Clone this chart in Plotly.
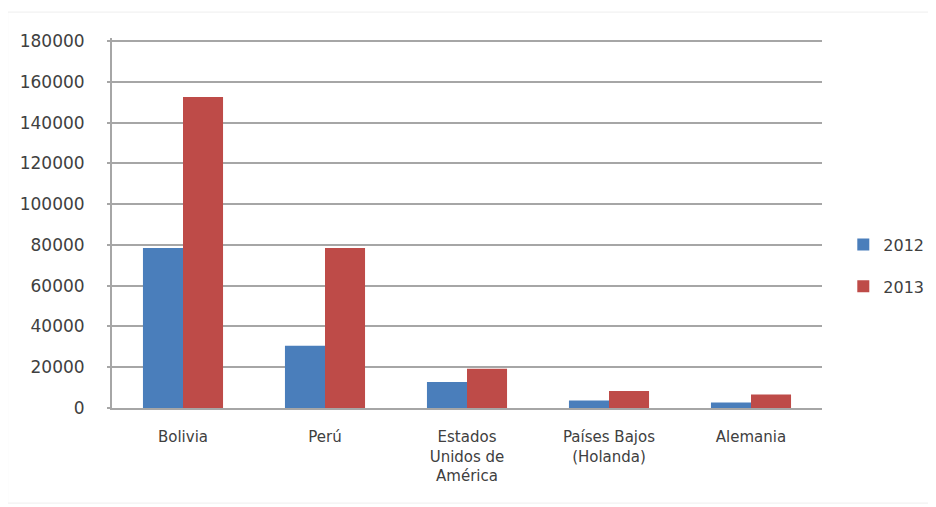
import plotly.graph_objects as go


BLUE = "#4A7EBB"
RED = "#BE4B48"
GRID = "#A6A6A6"
TEXT = "#404040"

paises = [
    "Bolivia",
    "Perú",
    "Estados<br>Unidos de<br>América",
    "Países Bajos<br>(Holanda)",
    "Alemania",
]

valores_2012 = [78500, 30500, 12700, 3700, 2700]
valores_2013 = [152500, 78500, 19300, 8300, 6600]

y_ticks = [0, 20000, 40000, 60000, 80000, 100000, 120000, 140000, 160000, 180000]


fig = go.Figure()

fig.add_trace(
    go.Bar(
        x=paises,
        y=valores_2012,
        name="2012",
        legendgroup="a",
        marker=dict(color=BLUE, line=dict(width=0)),
    )
)

fig.add_trace(
    go.Bar(
        x=paises,
        y=valores_2013,
        name="2013",
        legendgroup="b",
        marker=dict(color=RED, line=dict(width=0)),
    )
)


# the page adds an 8px body margin, so the figure is drawn 8px smaller
fig.update_layout(
    width=928,
    height=499,
    barmode="group",
    bargap=0.436,
    bargroupgap=0,
    paper_bgcolor="white",
    plot_bgcolor="white",
    font=dict(family="DejaVu Sans", color=TEXT, size=15),
    margin=dict(l=104, r=114, t=30, b=99, autoexpand=False),
    showlegend=True,
    legend=dict(
        x=1.03,
        y=0.385,
        xanchor="left",
        yanchor="middle",
        font=dict(size=16, color=TEXT),
        itemwidth=30,
        tracegroupgap=18,
        traceorder="grouped",
        bgcolor="rgba(0,0,0,0)",
    ),
    shapes=[
        dict(
            type="rect",
            xref="paper",
            yref="paper",
            x0=-0.147,
            x1=1.25,
            y0=-0.257,
            y1=1.07,
            line=dict(color="#EEEEEE", width=1),
        )
    ],
)

fig.update_xaxes(
    showgrid=False,
    showline=True,
    linecolor=GRID,
    linewidth=2,
    ticks="",
    ticklabelstandoff=14,
    tickfont=dict(size=15, color=TEXT),
)

fig.update_yaxes(
    range=[0, 181500],
    tickvals=y_ticks,
    ticktext=[str(v) for v in y_ticks],
    showgrid=True,
    gridcolor=GRID,
    gridwidth=2,
    zeroline=False,
    showline=True,
    linecolor=GRID,
    linewidth=2,
    ticks="outside",
    ticklen=3,
    tickwidth=2,
    tickcolor=GRID,
    ticklabelstandoff=19,
    tickfont=dict(size=17, color=TEXT),
)


fig.write_html("out.html")
